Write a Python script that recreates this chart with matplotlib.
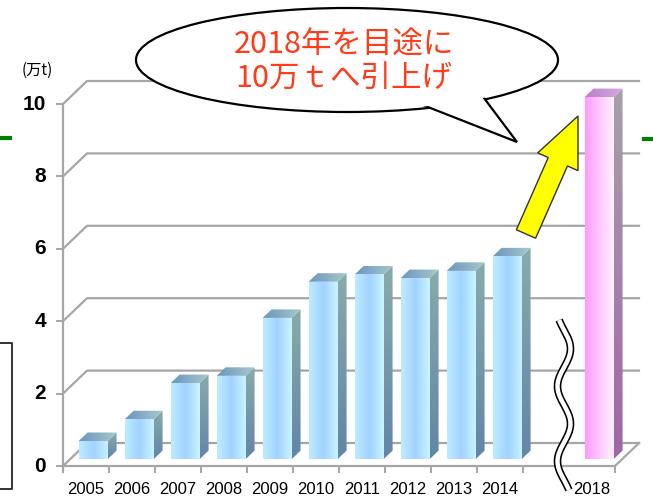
import numpy as np
import matplotlib.pyplot as plt
from matplotlib.patches import Polygon, Ellipse, FancyArrow
from matplotlib.colors import LinearSegmentedColormap

# production volume (10,000 t)
years = ["2005", "2006", "2007", "2008", "2009", "2010", "2011", "2012", "2013", "2014"]
volume = [0.5, 1.1, 2.1, 2.3, 3.9, 4.9, 5.1, 5.0, 5.2, 5.6]
target_year = "2018"
target_volume = 10.0
yticks = [0, 2, 4, 6, 8, 10]
unit_label = "(万t)"
callout = "2018年を目途に\n10万ｔへ引上げ"

sans = ["Liberation Sans", "DejaVu Sans"]
jp = ["Noto Sans CJK JP", "DejaVu Sans"]

W, H = 653, 499
fig = plt.figure(figsize=(W / 100, H / 100), dpi=100)

# front plane of the chart: x 63..615 px (12 slots), y 466 px (0) .. 104 px (10)
n_slots = 12
px_x = 552 / n_slots      # pixels per slot
px_y = 362 / 10           # pixels per unit
ax = fig.add_axes([0, 0, 1, 1])
ax.set_xlim(-63 / px_x, (W - 63) / px_x)
ax.set_ylim(-(H - 466) / px_y, 466 / px_y)
ax.axis("off")

Dx, Dy = 24 / px_x, 23 / px_y   # depth of the floor
f0, f1 = 0.3, 0.67              # bar front / back depth
bw = 29 / px_x

grid_c = "#A6A6A6"


def shade(pts, colors, vertical=False, z=3):
    poly = Polygon(pts, closed=True, fc="none", ec="none", zorder=z)
    ax.add_patch(poly)
    xs = [p[0] for p in pts]
    ys = [p[1] for p in pts]
    cmap = LinearSegmentedColormap.from_list("g", colors)
    g = np.linspace(0, 1, 64)
    img = g[:, None] if vertical else g[None, :]
    im = ax.imshow(img, cmap=cmap, extent=(min(xs), max(xs), min(ys), max(ys)),
                   origin="lower", aspect="auto", interpolation="bilinear", zorder=z)
    im.set_clip_path(poly)


def bar3d(slot, val, front, side, top):
    x0 = slot + (1 - bw) / 2 + f0 * Dx
    y0 = f0 * Dy
    dx, dy = (f1 - f0) * Dx, (f1 - f0) * Dy
    x1, y1 = x0 + bw, y0 + val
    shade([(x0, y0), (x1, y0), (x1, y1), (x0, y1)], front)
    shade([(x1, y0), (x1 + dx, y0 + dy), (x1 + dx, y1 + dy), (x1, y1)], side, vertical=True)
    shade([(x0, y1), (x1, y1), (x1 + dx, y1 + dy), (x0 + dx, y1 + dy)], top)


# walls and floor
for v in yticks:
    ax.plot([0, Dx, n_slots + Dx], [v, v + Dy, v + Dy], color=grid_c, lw=1.6, zorder=1)
    ax.plot([-6 / px_x, 0], [v, v], color=grid_c, lw=1.4, zorder=1)
    ax.text(-17 / px_x, v, str(v), ha="right", va="center", fontsize=15,
            fontweight="bold", family=sans)
ax.plot([0, 0], [-6 / px_y, 10], color=grid_c, lw=1.6, zorder=1)
ax.plot([0, n_slots, n_slots + Dx], [0, 0, Dy], color=grid_c, lw=1.6, zorder=1)
for t in list(range(1, 11)) + [12]:
    ax.plot([t, t], [0, -6 / px_y], color=grid_c, lw=1.4, zorder=1)

blue_front = ["#BDEBFF", "#A2D2FF", "#C8F4FF"]
blue_side = ["#6385A8", "#88ABA8"]
blue_top = ["#6C96BE", "#A6C8CC"]
for i, (yr, v) in enumerate(zip(years, volume)):
    bar3d(i, v, blue_front, blue_side, blue_top)
    ax.text(i + 0.5, -16 / px_y, yr, ha="center", va="top", fontsize=12, family=sans)

t_slot = n_slots - 1
bar3d(t_slot, target_volume, ["#FF99FF", "#FFC8FF", "#FFF0FF"],
      ["#A066A6", "#A8A0AA"], ["#B880C8", "#D8A8E0"])
ax.text(t_slot + 0.5, -16 / px_y, target_year, ha="center", va="top", fontsize=12,
        family=sans)

# overlay in pixel coordinates for annotations
ov = fig.add_axes([0, 0, 1, 1], zorder=5)
ov.set_xlim(0, W)
ov.set_ylim(H, 0)
ov.axis("off")
ov.patch.set_alpha(0)

ov.text(22, 70, unit_label, ha="left", va="center", fontsize=11, family=jp)

# axis break
yy = np.linspace(320, 490, 200)
xx = 564 + 6.5 * np.sin((yy - 330) / 75 * 2 * np.pi)
ov.plot(xx, yy, color="black", lw=5.5, solid_capstyle="butt")
ov.plot(xx, yy, color="white", lw=3.2, solid_capstyle="butt")

# speech bubble
ov.add_patch(Ellipse((347, 60), 422, 104, fc="white", ec="black", lw=1.6, zorder=2))
ov.add_patch(Polygon([(405, 98), (478, 90), (517, 142)], closed=True,
                     fc="white", ec="black", lw=1.6, zorder=3))
ov.add_patch(Ellipse((347, 60), 418, 100, fc="white", ec="none", zorder=4))
ov.text(344, 62, callout, ha="center", va="center", fontsize=22, color="#FF3B1A",
        family=jp, linespacing=1.12, zorder=5)

# arrow towards the target bar
ov.add_patch(FancyArrow(526, 234, 52, -118, width=21, head_width=44, head_length=50,
                        length_includes_head=True, fc="#FFFF00", ec="#333333", lw=1, zorder=5))

# edges of neighbouring slide content
ov.plot([0, 10], [138, 138], color="#008000", lw=3)
ov.plot([644, 653], [139, 139], color="#008000", lw=3)
ov.plot([0, 12, 12, 0], [343, 343, 489, 489], color="#222222", lw=1.3)

fig.savefig("out.png", dpi=100)
